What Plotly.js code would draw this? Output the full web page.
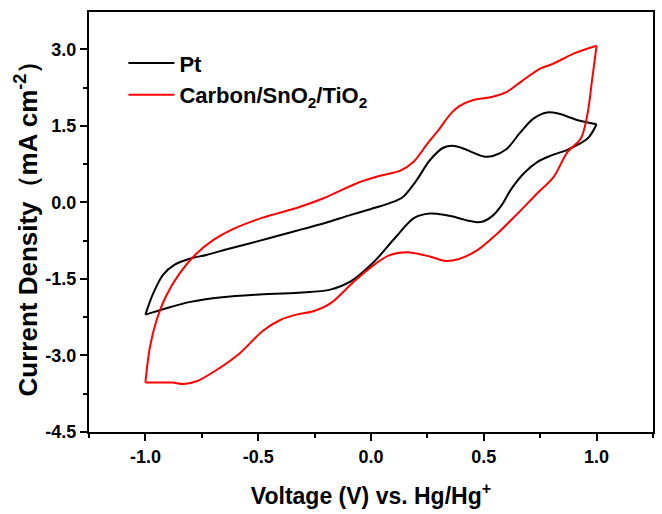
<!DOCTYPE html>
<html>
<head>
<meta charset="utf-8">
<script src="https://cdn.plot.ly/plotly-3.0.1.min.js"></script>
<style>html,body{margin:0;padding:0;background:#fff;}</style>
</head>
<body>
<div id="chart" style="width:662px;height:514px;"></div>
<script>
// Pt: anodic (forward) sweep
const ptFwdV = [-1.0, -0.966, -0.922, -0.87, -0.80, -0.73, -0.63, -0.50, -0.40, -0.30, -0.20, -0.10, 0.00, 0.08, 0.14, 0.20, 0.26, 0.32, 0.36, 0.40, 0.45, 0.50, 0.54, 0.60, 0.66, 0.72, 0.78, 0.83, 0.91, 1.00];
const ptFwdJ = [-2.20, -1.79, -1.42, -1.22, -1.10, -1.03, -0.91, -0.76, -0.64, -0.52, -0.40, -0.26, -0.13, -0.02, 0.10, 0.42, 0.82, 1.07, 1.11, 1.07, 0.98, 0.90, 0.91, 1.04, 1.36, 1.64, 1.76, 1.74, 1.62, 1.53];
// Pt: cathodic (reverse) sweep
const ptRevV = [1.00, 0.96, 0.87, 0.80, 0.74, 0.68, 0.62, 0.58, 0.54, 0.50, 0.47, 0.43, 0.39, 0.33, 0.26, 0.19, 0.11, 0.01, -0.09, -0.18, -0.32, -0.51, -0.66, -0.80, -0.91, -1.0];
const ptRevJ = [1.53, 1.25, 1.03, 0.92, 0.80, 0.58, 0.25, -0.05, -0.26, -0.37, -0.39, -0.36, -0.31, -0.25, -0.22, -0.31, -0.68, -1.18, -1.55, -1.71, -1.77, -1.81, -1.86, -1.95, -2.08, -2.20];
// Carbon/SnO2/TiO2: anodic sweep
const cstFwdV = [-1.0, -0.98, -0.95, -0.91, -0.85, -0.78, -0.70, -0.61, -0.48, -0.33, -0.21, -0.06, 0.04, 0.13, 0.19, 0.25, 0.30, 0.35, 0.39, 0.45, 0.54, 0.60, 0.67, 0.75, 0.81, 0.90, 1.00];
const cstFwdJ = [-3.53, -2.84, -2.30, -1.85, -1.40, -1.03, -0.74, -0.52, -0.30, -0.11, 0.08, 0.38, 0.52, 0.62, 0.80, 1.15, 1.42, 1.72, 1.88, 2.00, 2.07, 2.16, 2.38, 2.62, 2.72, 2.92, 3.07];
// Carbon/SnO2/TiO2: cathodic sweep
const cstRevV = [1.00, 0.98, 0.96, 0.93, 0.87, 0.81, 0.735, 0.65, 0.56, 0.47, 0.39, 0.33, 0.26, 0.16, 0.08, 0.00, -0.08, -0.18, -0.26, -0.33, -0.40, -0.48, -0.58, -0.69, -0.77, -0.83, -0.88, -0.92, -1.0];
const cstRevJ = [3.07, 2.40, 1.74, 1.25, 0.98, 0.50, 0.17, -0.22, -0.61, -0.94, -1.11, -1.15, -1.06, -0.98, -1.04, -1.27, -1.57, -1.98, -2.14, -2.20, -2.30, -2.52, -2.95, -3.30, -3.50, -3.56, -3.53, -3.53, -3.53];

const seriesNames = ['Pt', 'Carbon/SnO<sub>2</sub>/TiO<sub>2</sub>'];
const xTitle = 'Voltage (V) vs. Hg/Hg<sup>+</sup>';
const yTitle = 'Current Density\uFF08mA cm<sup>-2</sup>\uFF09';
const xTickVals = [-1.0, -0.5, 0.0, 0.5, 1.0];
const xTickText = ['-1.0', '-0.5', '0.0', '0.5', '1.0'];
const yTickVals = [-4.5, -3.0, -1.5, 0.0, 1.5, 3.0];
const yTickText = ['-4.5', '-3.0', '-1.5', '0.0', '1.5', '3.0'];

const lineStyle = (c) => ({color: c, width: 2, shape: 'spline', smoothing: 0.9});
const traces = [
  {x: ptFwdV, y: ptFwdJ, mode: 'lines', name: seriesNames[0], legendgroup: 'pt', line: lineStyle('#000000')},
  {x: ptRevV, y: ptRevJ, mode: 'lines', name: seriesNames[0], legendgroup: 'pt', showlegend: false, line: lineStyle('#000000')},
  {x: cstFwdV, y: cstFwdJ, mode: 'lines', name: seriesNames[1], legendgroup: 'cst', line: lineStyle('#ff0000')},
  {x: cstRevV, y: cstRevJ, mode: 'lines', name: seriesNames[1], legendgroup: 'cst', showlegend: false, line: lineStyle('#ff0000')}
];

const fontFam = 'Liberation Sans, Arial, sans-serif';
const layout = {
  width: 662, height: 514,
  margin: {l: 89, r: 9, t: 12, b: 82},
  paper_bgcolor: '#ffffff', plot_bgcolor: '#ffffff',
  font: {family: fontFam, color: '#000000'},
  showlegend: true,
  legend: {x: 0.061, y: 0.928, xanchor: 'left', yanchor: 'top', bgcolor: 'rgba(0,0,0,0)',
           font: {size: 22, family: fontFam, weight: 'bold'}, tracegroupgap: 0, itemwidth: 46},
  xaxis: {
    range: [-1.25, 1.25], tickmode: 'array', tickvals: xTickVals, ticktext: xTickText,
    showgrid: false, zeroline: false,
    showline: true, linecolor: '#000', linewidth: 2, mirror: true,
    ticks: 'outside', ticklen: 7, tickwidth: 2, tickcolor: '#000',
    minor: {ticks: 'outside', ticklen: 4, tickwidth: 2, dtick: 0.25, tick0: 0, tickcolor: '#000', showgrid: false},
    tickfont: {size: 18, family: fontFam, weight: 'bold'},
    title: {text: xTitle, font: {size: 23, family: fontFam, weight: 'bold'}, standoff: 22}
  },
  yaxis: {
    range: [-4.5, 3.73], tickmode: 'array', tickvals: yTickVals, ticktext: yTickText,
    showgrid: false, zeroline: false,
    showline: true, linecolor: '#000', linewidth: 2, mirror: true,
    ticks: 'outside', ticklen: 7, tickwidth: 2, tickcolor: '#000',
    minor: {ticks: 'outside', ticklen: 4, tickwidth: 2, dtick: 0.75, tick0: 0, tickcolor: '#000', showgrid: false},
    tickfont: {size: 18, family: fontFam, weight: 'bold'},
    title: {text: yTitle, font: {size: 26, family: fontFam, weight: 'bold'}, standoff: 0}
  }
};
Plotly.newPlot('chart', traces, layout, {displayModeBar: false, staticPlot: true});
</script>
</body>
</html>
